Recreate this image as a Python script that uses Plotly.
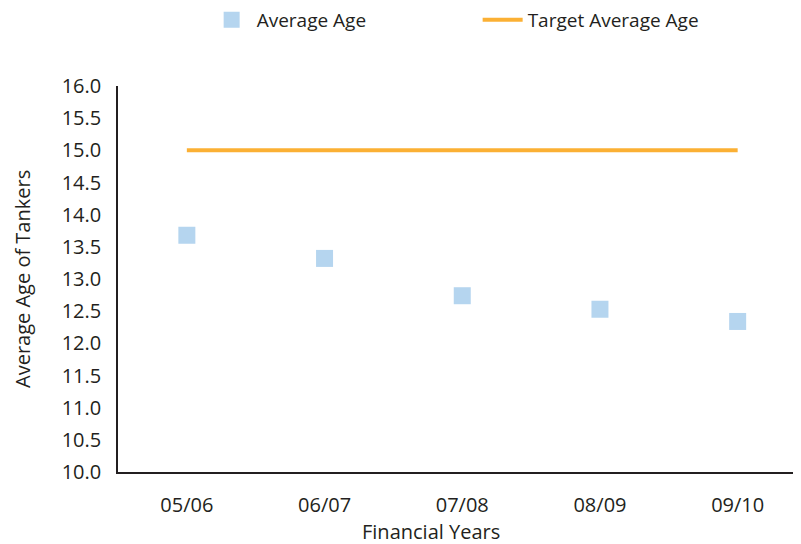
import plotly.graph_objects as go

years = ["05/06", "06/07", "07/08", "08/09", "09/10"]
average_age = [13.68, 13.32, 12.74, 12.53, 12.34]
target_age = [15.0, 15.0, 15.0, 15.0, 15.0]
y_ticks = [10.0, 10.5, 11.0, 11.5, 12.0, 12.5, 13.0, 13.5, 14.0, 14.5, 15.0, 15.5, 16.0]

TXT = "#231F20"
FONT = "Open Sans"

fig = go.Figure()
fig.add_trace(go.Scatter(
    x=years, y=average_age, mode="markers", name="Average Age",
    marker=dict(symbol="square", size=17, color="#B5D5EF"),
))
fig.add_trace(go.Scatter(
    x=years, y=target_age, mode="lines", name="Target Average Age",
    line=dict(color="#FBB034", width=4),
))

fig.update_layout(
    width=801, height=544,
    margin=dict(l=110, r=8, t=78, b=80, autoexpand=False),
    paper_bgcolor="white", plot_bgcolor="white",
    font=dict(family=FONT, color=TXT, size=20),
    showlegend=True,
    legend=dict(
        orientation="h", xref="container", yref="container",
        x=0.248, xanchor="left", y=0.978, yanchor="middle",
        font=dict(family=FONT, size=19, color=TXT),
        entrywidth=216, itemwidth=40,
    ),
    xaxis=dict(
        type="category", range=[-0.5, 4.46], automargin=False,
        showline=True, linecolor=TXT, linewidth=1.5,
        showgrid=False, zeroline=False, ticks="",
        ticklabelstandoff=14,
        tickfont=dict(family=FONT, size=20, color=TXT),
    ),
    yaxis=dict(
        range=[10, 16], tickvals=y_ticks, automargin=False,
        ticktext=[f"{v:.1f}" for v in y_ticks],
        showline=True, linecolor=TXT, linewidth=1.5,
        showgrid=False, zeroline=False, ticks="",
        ticklabelstandoff=11,
        tickfont=dict(family=FONT, size=20, color=TXT),
    ),
    annotations=[
        dict(text="Average Age of Tankers", xref="paper", yref="paper",
             x=-0.1406, y=0.5, textangle=-90, showarrow=False,
             xanchor="center", yanchor="middle",
             font=dict(family=FONT, size=20, color=TXT)),
        dict(text="Financial Years", xref="paper", yref="paper",
             x=0.458, y=-0.154, showarrow=False,
             xanchor="center", yanchor="middle",
             font=dict(family=FONT, size=20, color=TXT)),
    ],
)

fig.write_html("out.html")
